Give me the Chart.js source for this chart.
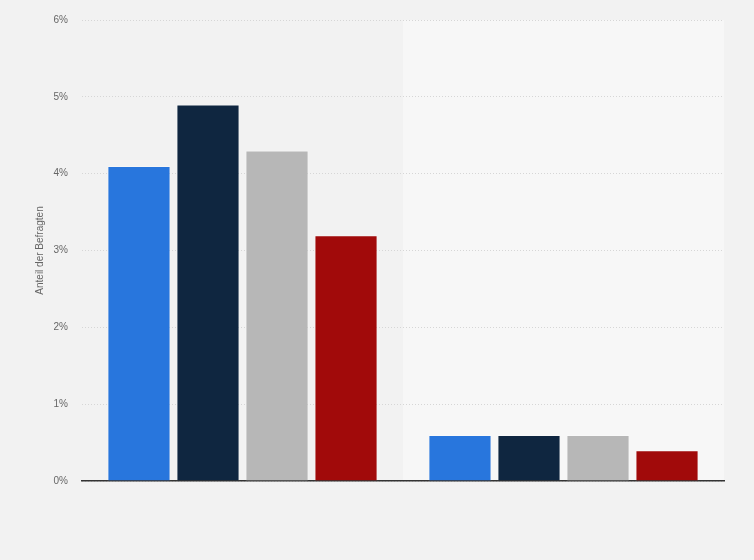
<!DOCTYPE html>
<html>
<head>
<meta charset="utf-8">
<script src="https://cdn.jsdelivr.net/npm/chart.js@4/dist/chart.umd.min.js"></script>
<style>
  html, body { margin: 0; padding: 0; background: #f2f2f2; }
  #wrap { width: 754px; height: 560px; position: relative; }
</style>
</head>
<body>
<div id="wrap"><canvas id="chart"></canvas></div>
<script>
// categories are not labelled in the picture
const categories = ["Gruppe 1", "Gruppe 2"];
const seriesNames = ["Serie 1", "Serie 2", "Serie 3", "Serie 4"];
const seriesA = [4.1, 0.6];
const seriesB = [4.9, 0.6];
const seriesC = [4.3, 0.6];
const seriesD = [3.2, 0.4];
const yTicks = [0, 1, 2, 3, 4, 5, 6];

const colors = ["#2876dd", "#0f2640", "#b7b7b7", "#a10a0a"];

// lighter band behind the second category
const bandPlugin = {
    id: "band",
    beforeDraw(chart) {
        const { ctx, chartArea, scales } = chart;
        const x = scales.x;
        const step = x.getPixelForValue(1) - x.getPixelForValue(0);
        const left = x.getPixelForValue(1) - step / 2;
        ctx.save();
        ctx.fillStyle = "#f7f7f7";
        ctx.fillRect(left, chartArea.top, chartArea.right - left, chartArea.bottom - chartArea.top);
        ctx.restore();
    }
};

const allSeries = [seriesA, seriesB, seriesC, seriesD];

new Chart(document.getElementById("chart"), {
    type: "bar",
    data: {
        labels: categories,
        datasets: allSeries.map((d, i) => ({
            label: seriesNames[i],
            data: d,
            backgroundColor: colors[i],
            borderColor: "rgba(255,255,255,0.3)",
            borderWidth: 1,
            categoryPercentage: 0.86,
            barPercentage: 0.915
        }))
    },
    options: {
        responsive: true,
        maintainAspectRatio: false,
        animation: false,
        layout: { padding: { top: 20, right: 30, bottom: 71, left: 0 } },
        plugins: {
            legend: { display: false },
            tooltip: { enabled: false }
        },
        scales: {
            x: {
                ticks: { display: false },
                grid: { display: false },
                border: { display: true, color: "#333", width: 1.5 }
            },
            y: {
                min: 0,
                max: 6,
                afterBuildTicks(axis) { axis.ticks = yTicks.map(v => ({ value: v })); },
                afterFit(axis) { axis.width = 82; },
                ticks: {
                    padding: 14,
                    color: "#666",
                    font: { family: "'Liberation Sans', Arial, sans-serif", size: 10 },
                    callback: v => v + "%"
                },
                grid: { color: "#d6d6d6", drawTicks: false },
                border: { display: false, dash: [1, 2] },
                title: {
                    display: true,
                    text: "Anteil der Befragten",
                    color: "#666",
                    padding: { top: 34, bottom: 0 },
                    font: { family: "'Liberation Sans', Arial, sans-serif", size: 10 }
                }
            }
        }
    },
    plugins: [bandPlugin]
});
</script>
</body>
</html>
